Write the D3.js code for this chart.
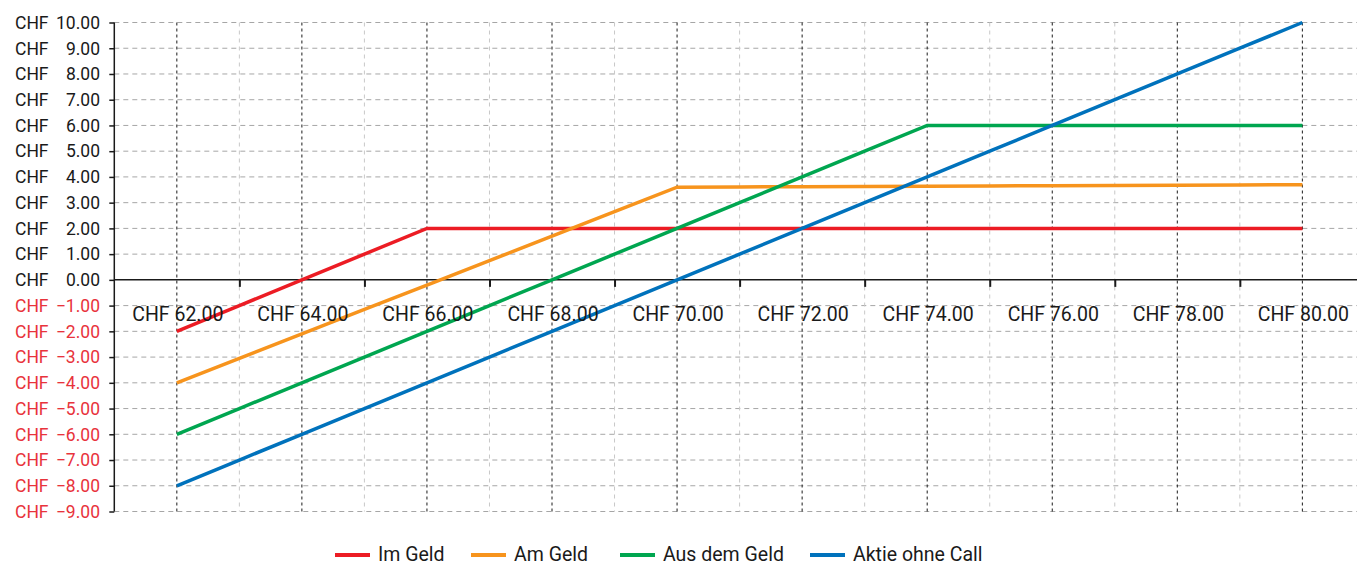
<!DOCTYPE html>
<html>
<head>
<meta charset="utf-8">
<script src="https://cdn.jsdelivr.net/npm/d3@7"></script>
<style>
  html, body { margin: 0; padding: 0; background: #fff; }
  svg { display: block; }
</style>
</head>
<body>
<svg id="chart" width="1357" height="566"></svg>
<script>
// Underlying price at expiry (CHF)
const prices = [62, 63, 64, 65, 66, 67, 68, 69, 70, 71, 72, 73, 74, 75, 76, 77, 78, 79, 80];

// Profit / loss per strategy (CHF)
const imGeld = [-2, -1, 0, 1, 2, 2, 2, 2, 2, 2, 2, 2, 2, 2, 2, 2, 2, 2, 2];
const amGeld = [-4, -3.05, -2.1, -1.15, -0.2, 0.75, 1.7, 2.65, 3.6, 3.61, 3.62, 3.63, 3.64, 3.65, 3.66, 3.67, 3.68, 3.69, 3.7];
const ausDemGeld = [-6, -5, -4, -3, -2, -1, 0, 1, 2, 3, 4, 5, 6, 6, 6, 6, 6, 6, 6];
const aktieOhneCall = [-8, -7, -6, -5, -4, -3, -2, -1, 0, 1, 2, 3, 4, 5, 6, 7, 8, 9, 10];

const seriesNames = ["Im Geld", "Am Geld", "Aus dem Geld", "Aktie ohne Call"];
const seriesColors = ["#ec1c24", "#f7941d", "#00a650", "#0072bc"];
const seriesValues = [imGeld, amGeld, ausDemGeld, aktieOhneCall];

// Axis ticks
const yTicks = [10, 9, 8, 7, 6, 5, 4, 3, 2, 1, 0, -1, -2, -3, -4, -5, -6, -7, -8, -9];
const xLabelTicks = [62, 64, 66, 68, 70, 72, 74, 76, 78, 80];
const xMinorTicks = [63, 65, 67, 69, 71, 73, 75, 77, 79];

const svg = d3.select("#chart");
const W = 1357;

const x = d3.scaleLinear().domain([61, 81]).range([114.3, 1364.9]);
const y = d3.scaleLinear().domain([-9, 10]).range([511.5, 22.5]);

const fmt = d3.format(".2f");

// Horizontal gridlines
svg.append("g")
  .selectAll("line")
  .data(yTicks.filter(d => d !== 0))
  .join("line")
  .attr("x1", x(61)).attr("x2", W)
  .attr("y1", d => y(d)).attr("y2", d => y(d))
  .attr("stroke", "#a6a6a6")
  .attr("stroke-width", 1)
  .attr("stroke-dasharray", "5,4");

// Vertical gridlines: light at odd prices, dark at labelled prices
svg.append("g")
  .selectAll("line")
  .data(xMinorTicks)
  .join("line")
  .attr("x1", d => x(d)).attr("x2", d => x(d))
  .attr("y1", y(10)).attr("y2", y(-9))
  .attr("stroke", "#c8c8c8")
  .attr("stroke-width", 1)
  .attr("stroke-dasharray", "4,4");

svg.append("g")
  .selectAll("line")
  .data(xLabelTicks)
  .join("line")
  .attr("x1", d => x(d)).attr("x2", d => x(d))
  .attr("y1", y(10)).attr("y2", y(-9))
  .attr("stroke", "#1a1a1a")
  .attr("stroke-width", 1)
  .attr("stroke-dasharray", "3,3");

// Y axis
const yAxis = svg.append("g")
  .attr("transform", `translate(${x(61)},0)`)
  .call(d3.axisLeft(y).tickValues(yTicks).tickSize(5).tickFormat(""));
yAxis.select(".domain").attr("stroke", "#1a1a1a").attr("stroke-width", 1.5)
  .attr("d", `M0,${y(10)}V${y(-9)}`);
yAxis.selectAll(".tick line").attr("stroke", "#1a1a1a").attr("stroke-width", 1.5);

const yLab = svg.append("g")
  .style("font-family", "Roboto, sans-serif")
  .style("font-size", "17.5px");
yLab.selectAll("text.cur")
  .data(yTicks)
  .join("text")
  .attr("class", "cur")
  .attr("x", 15)
  .attr("y", d => y(d))
  .attr("dy", "0.36em")
  .attr("fill", d => d < 0 ? "#e8333c" : "#1a1a1a")
  .text("CHF");
yLab.selectAll("text.val")
  .data(yTicks)
  .join("text")
  .attr("class", "val")
  .attr("x", 100)
  .attr("y", d => y(d))
  .attr("dy", "0.36em")
  .attr("text-anchor", "end")
  .attr("fill", d => d < 0 ? "#e8333c" : "#1a1a1a")
  .text(d => fmt(d));

// X axis along zero
const xAxis = svg.append("g")
  .attr("transform", `translate(0,${y(0)})`)
  .call(d3.axisBottom(x).tickValues(xMinorTicks).tickSize(7).tickFormat(""));
xAxis.select(".domain").attr("stroke", "#1a1a1a").attr("stroke-width", 1.5)
  .attr("d", `M${x(61)},0H${W}`);
xAxis.selectAll(".tick line").attr("stroke", "#1a1a1a").attr("stroke-width", 2);

// Payoff lines
const line = d3.line()
  .x((d, i) => x(prices[i]))
  .y(d => y(d));

svg.append("g")
  .selectAll("path")
  .data(seriesValues)
  .join("path")
  .attr("d", d => line(d))
  .attr("fill", "none")
  .attr("stroke", (d, i) => seriesColors[i])
  .attr("stroke-width", 3.5)
  .attr("stroke-linejoin", "miter");

// Price labels
svg.append("g")
  .style("font-family", "Roboto, sans-serif")
  .style("font-size", "19.5px")
  .selectAll("text")
  .data(xLabelTicks)
  .join("text")
  .attr("x", d => x(d) + 1)
  .attr("y", 321)
  .attr("text-anchor", "middle")
  .attr("fill", "#1a1a1a")
  .text(d => "CHF " + fmt(d));

// Legend
const legendX = [335, 471, 620, 810];
const legend = svg.append("g")
  .style("font-family", "Roboto, sans-serif")
  .style("font-size", "19.5px");
const items = legend.selectAll("g")
  .data(seriesNames)
  .join("g")
  .attr("transform", (d, i) => `translate(${legendX[i]},0)`);
items.append("line")
  .attr("x1", 0).attr("x2", 35)
  .attr("y1", 555).attr("y2", 555)
  .attr("stroke", (d, i) => seriesColors[i])
  .attr("stroke-width", 4);
items.append("text")
  .attr("x", 43)
  .attr("y", 561)
  .attr("fill", "#1a1a1a")
  .text(d => d);
</script>
</body>
</html>
